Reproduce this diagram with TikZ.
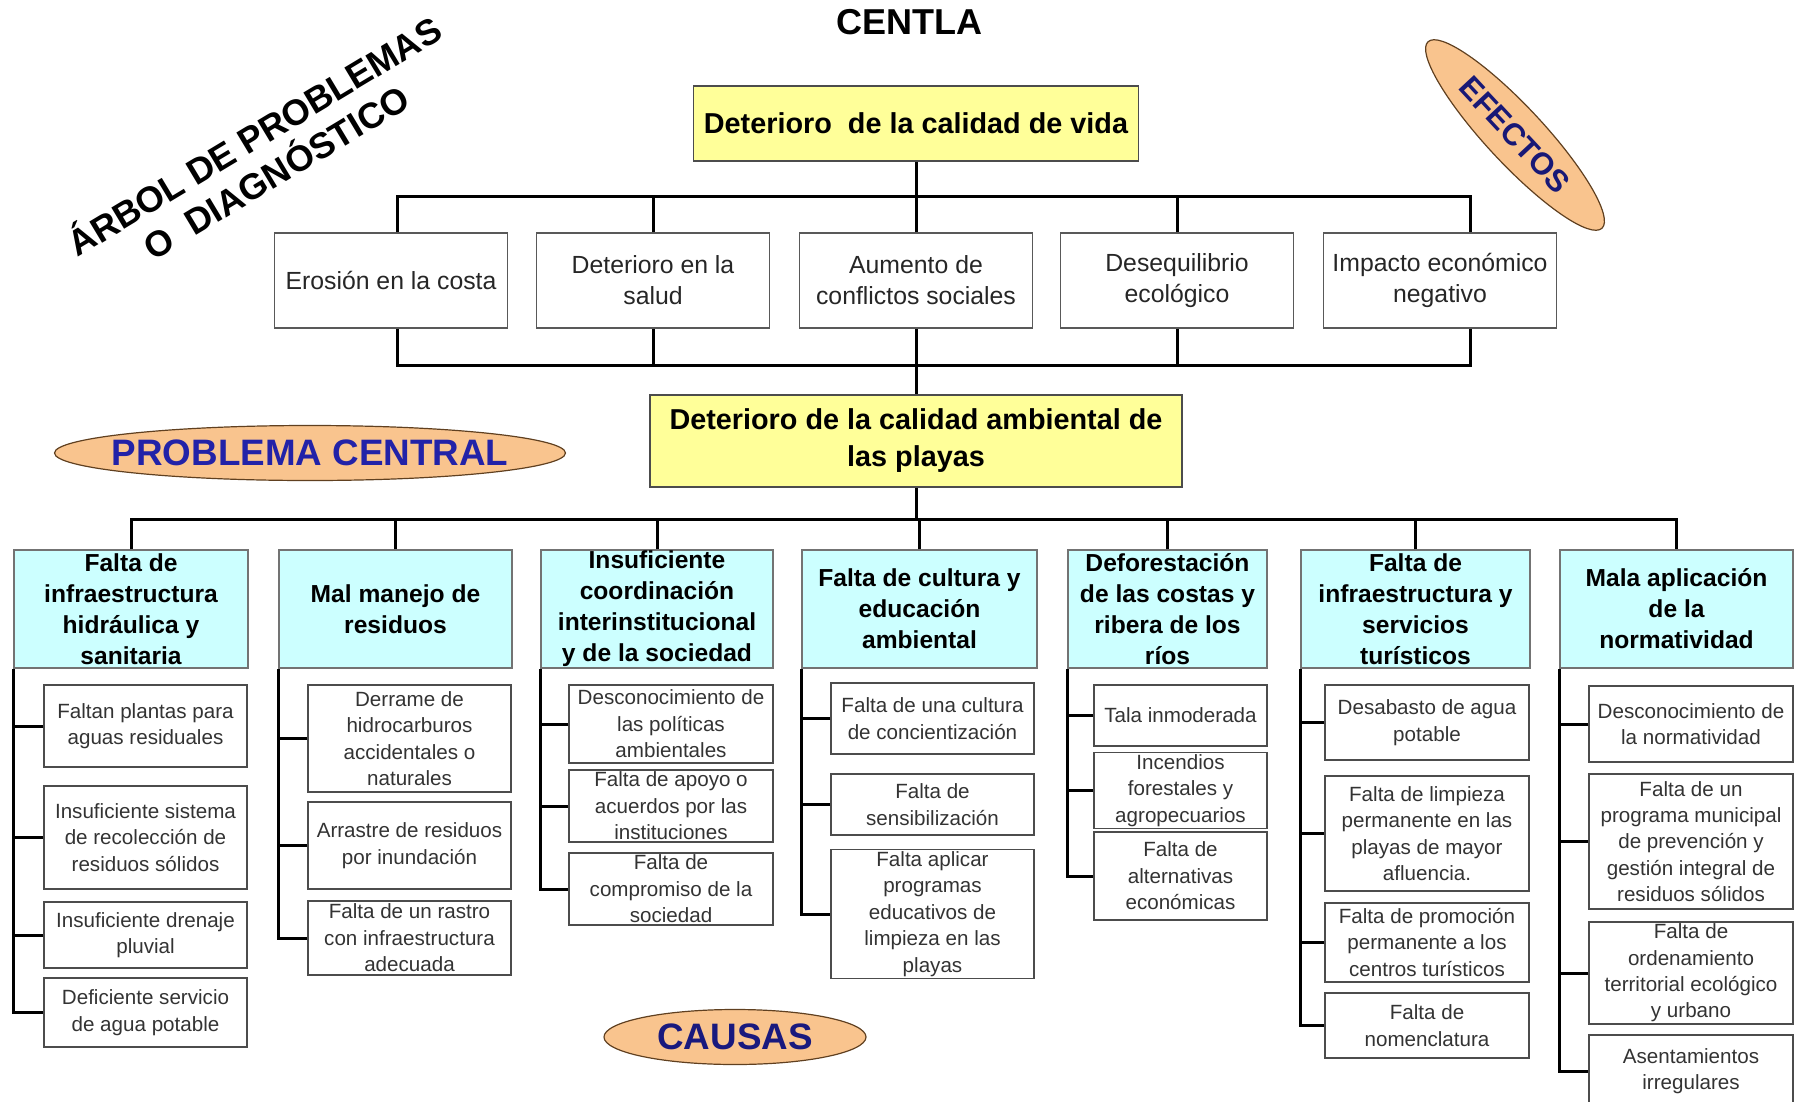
\documentclass[tikz,border=0pt]{standalone}
\usepackage{fontspec}
\setmainfont{Liberation Sans}
\usepackage{tikz}
\usetikzlibrary{positioning,shapes,arrows,calc}

\definecolor{amarillo}{HTML}{FFFF99}
\definecolor{celeste}{HTML}{CCFFFF}
\definecolor{naranja}{HTML}{F9C48E}
\definecolor{azul}{HTML}{2222A8}

\begin{document}
\begin{tikzpicture}[x=1pt, y=-1pt,
  efecto/.style={draw=black!65, line width=1.5pt, minimum width=233pt, minimum height=95pt,
                 inner sep=2pt, align=center, text=black!85, font=\fontsize{24.8}{31}\selectfont},
  central/.style={draw=black!70, line width=1.5pt, fill=amarillo, inner sep=2pt, align=center,
                  font=\bfseries\fontsize{28.8}{37}\selectfont},
  causa/.style={draw=black!55, line width=1.5pt, fill=celeste, minimum height=118pt, inner sep=0pt,
                align=center, font=\bfseries\fontsize{24.6}{31}\selectfont},
  sub/.style={draw=black!70, line width=1.5pt, inner sep=2pt, align=center, text=black!80,
              font=\fontsize{20.6}{26.4}\selectfont},
  ovalo/.style={ellipse, draw=black!50!brown, line width=1.2pt, fill=naranja, inner sep=0pt},
  ovtexto/.style={text=azul, font=\bfseries\fontsize{36.8}{40}\selectfont},
  tronco/.style={line width=3pt}
]
  \useasboundingbox (0,0) rectangle (1800,1101);

  % titulos y ovalos
  \node[font=\bfseries\fontsize{36}{40}\selectfont] (centla) at (909,22) {CENTLA};
  \node[rotate=31, align=center, font=\bfseries\fontsize{36}{42}\selectfont] (titulo) at (264,152)
       {ÁRBOL DE PROBLEMAS\\O~ DIAGNÓSTICO};
  \node[ovalo, minimum width=255pt, minimum height=57pt, rotate=-47] (efov) at (1515,135) {};
  \node[ovtexto, text=azul!70!black, rotate=-47, font=\bfseries\fontsize{31}{34}\selectfont] (eftx) at (efov) {EFECTOS};
  \node[ovalo, minimum width=511pt, minimum height=55pt] (pcov) at (310,453) {};
  \node[ovtexto] (pctx) at (pcov) {PROBLEMA CENTRAL};
  \node[ovalo, minimum width=262pt, minimum height=55pt] (caov) at (735,1037) {};
  \node[ovtexto, text=azul!75!black] (catx) at (caov) {CAUSAS};

  % efectos
  \node[central, minimum width=445pt, minimum height=75pt] (vida) at (916,123.5) {Deterioro~ de la calidad de vida};
  \node[efecto] (e1) at (391,280.5)  {Erosión en la costa};
  \node[efecto] (e2) at (653,280.5)  {Deterioro en la\\salud};
  \node[efecto] (e3) at (916,280.5)  {Aumento de\\conflictos sociales};
  \node[efecto] (e4) at (1177,280.5) {Desequilibrio\\ecológico};
  \node[efecto] (e5) at (1440,280.5) {Impacto económico\\negativo};
  \node[central, minimum width=532pt, minimum height=92pt] (playas) at (916,441)
       {Deterioro de la calidad ambiental de\\las playas};

  \coordinate (busA) at (0,196);
  \coordinate (busB) at (0,365);
  \coordinate (busC) at (0,519);
  \coordinate (e1n) at ([xshift=6pt]e1.north);
  \coordinate (e1s) at ([xshift=6pt]e1.south);
  \coordinate (e5n) at ([xshift=30pt]e5.north);
  \coordinate (e5s) at ([xshift=30pt]e5.south);

  \draw[tronco] (vida.south) -- (vida.south |- busA);
  \draw[tronco] (e1n) -- (e1n |- busA) -- (e5n |- busA) -- (e5n);
  \draw[tronco] (e2.north) -- (e2.north |- busA);
  \draw[tronco] (e3.north) -- (e3.north |- busA);
  \draw[tronco] (e4.north) -- (e4.north |- busA);
  \draw[tronco] (e1s) -- (e1s |- busB) -- (e5s |- busB) -- (e5s);
  \draw[tronco] (e2.south) -- (e2.south |- busB);
  \draw[tronco] (e3.south) -- (playas.north);
  \draw[tronco] (e4.south) -- (e4.south |- busB);

  % causas
  \node[causa, minimum width=234pt] (c1) at (131,609)    {Falta de\\infraestructura\\hidráulica y\\sanitaria};
  \node[causa, minimum width=233pt] (c2) at (395.5,609)  {Mal manejo de\\residuos};
  \node[causa, minimum width=232pt] (c3) at (657,609)    {Insuficiente\\coordinación\\interinstitucional\\y de la sociedad};
  \node[causa, minimum width=235pt] (c4) at (919.5,609)  {Falta de cultura y\\educación\\ambiental};
  \node[causa, minimum width=199pt] (c5) at (1167.5,609) {Deforestación\\de las costas y\\ribera de los\\ríos};
  \node[causa, minimum width=229pt] (c6) at (1415.5,609) {Falta de\\infraestructura y\\servicios\\turísticos};
  \node[causa, minimum width=233pt] (c7) at (1676.5,609) {Mala aplicación\\de la\\normatividad};

  \draw[tronco] (playas.south) -- (playas.south |- busC);
  \draw[tronco] (c1.north) -- (c1.north |- busC) -- (c7.north |- busC) -- (c7.north);
  \draw[tronco] (c2.north) -- (c2.north |- busC);
  \draw[tronco] (c3.north) -- (c3.north |- busC);
  \draw[tronco] (c4.north) -- (c4.north |- busC);
  \draw[tronco] (c5.north) -- (c5.north |- busC);
  \draw[tronco] (c6.north) -- (c6.north |- busC);

  % sub-causas
  \node[sub, minimum width=203pt, minimum height=82pt]  (s11) at (145.5,726)   {Faltan plantas para\\aguas residuales};
  \node[sub, minimum width=203pt, minimum height=103pt] (s12) at (145.5,837.5) {Insuficiente sistema\\de recolección de\\residuos sólidos};
  \node[sub, minimum width=203pt, minimum height=66pt]  (s13) at (145.5,935)   {Insuficiente drenaje\\pluvial};
  \node[sub, minimum width=203pt, minimum height=69pt]  (s14) at (145.5,1012.5) {Deficiente servicio\\de agua potable};

  \node[sub, minimum width=203pt, minimum height=107pt] (s21) at (409.5,738.5) {Derrame de\\hidrocarburos\\accidentales o\\naturales};
  \node[sub, minimum width=203pt, minimum height=87pt]  (s22) at (409.5,845.5) {Arrastre de residuos\\por inundación};
  \node[sub, minimum width=203pt, minimum height=74pt]  (s23) at (409.5,938)   {Falta de un rastro\\con infraestructura\\adecuada};

  \node[sub, minimum width=204pt, minimum height=78pt]  (s31) at (671,724) {Desconocimiento de\\las políticas\\ambientales};
  \node[sub, minimum width=204pt, minimum height=66pt]  (s32) at (671,806) {Falta de apoyo o\\acuerdos por las\\instituciones};
  \node[sub, minimum width=204pt, minimum height=72pt]  (s33) at (671,889) {Falta de\\compromiso de la\\sociedad};

  \node[sub, minimum width=203pt, minimum height=71pt]  (s41) at (932.5,718.5) {Falta de una cultura\\de concientización};
  \node[sub, minimum width=203pt, minimum height=61pt]  (s42) at (932.5,804.5) {Falta de\\sensibilización};
  \node[sub, minimum width=203pt, minimum height=122pt] (s43) at (932.5,914)   {Falta aplicar\\programas\\educativos de\\limpieza en las\\playas};

  \node[sub, minimum width=173pt, minimum height=61pt]  (s51) at (1180.5,715.5) {Tala inmoderada};
  \node[sub, minimum width=173pt, minimum height=63pt]  (s52) at (1180.5,790.5) {Incendios\\forestales y\\agropecuarios};
  \node[sub, minimum width=173pt, minimum height=88pt]  (s53) at (1180.5,876)   {Falta de\\alternativas\\económicas};

  \node[sub, minimum width=204pt, minimum height=75pt]  (s61) at (1427,722.5)  {Desabasto de agua\\potable};
  \node[sub, minimum width=204pt, minimum height=115pt] (s62) at (1427,833.5)  {Falta de limpieza\\permanente en las\\playas de mayor\\afluencia.};
  \node[sub, minimum width=204pt, minimum height=79pt]  (s63) at (1427,942.5)  {Falta de promoción\\permanente a los\\centros turísticos};
  \node[sub, minimum width=204pt, minimum height=65pt]  (s64) at (1427,1025.5) {Falta de\\nomenclatura};

  \node[sub, minimum width=204pt, minimum height=76pt]  (s71) at (1691,724)   {Desconocimiento de\\la normatividad};
  \node[sub, minimum width=204pt, minimum height=135pt] (s72) at (1691,841.5) {Falta de un\\programa municipal\\de prevención y\\gestión integral de\\residuos sólidos};
  \node[sub, minimum width=204pt, minimum height=102pt] (s73) at (1691,973)   {Falta de\\ordenamiento\\territorial ecológico\\y urbano};
  \node[sub, minimum width=204pt, minimum height=72pt]  (s74) at (1691,1071)  {Asentamientos\\irregulares};

  % ramas
  \draw[tronco] (c1.south west) |- (s14.west);
  \draw[tronco] (s11.west) -- (s11.west -| c1.south west);
  \draw[tronco] (s12.west) -- (s12.west -| c1.south west);
  \draw[tronco] (s13.west) -- (s13.west -| c1.south west);
  \draw[tronco] (c2.south west) |- (s23.west);
  \draw[tronco] (s21.west) -- (s21.west -| c2.south west);
  \draw[tronco] (s22.west) -- (s22.west -| c2.south west);
  \draw[tronco] (c3.south west) |- (s33.west);
  \draw[tronco] (s31.west) -- (s31.west -| c3.south west);
  \draw[tronco] (s32.west) -- (s32.west -| c3.south west);
  \draw[tronco] (c4.south west) |- (s43.west);
  \draw[tronco] (s41.west) -- (s41.west -| c4.south west);
  \draw[tronco] (s42.west) -- (s42.west -| c4.south west);
  \draw[tronco] (c5.south west) |- (s53.west);
  \draw[tronco] (s51.west) -- (s51.west -| c5.south west);
  \draw[tronco] (s52.west) -- (s52.west -| c5.south west);
  \draw[tronco] (c6.south west) |- (s64.west);
  \draw[tronco] (s61.west) -- (s61.west -| c6.south west);
  \draw[tronco] (s62.west) -- (s62.west -| c6.south west);
  \draw[tronco] (s63.west) -- (s63.west -| c6.south west);
  \draw[tronco] (c7.south west) |- (s74.west);
  \draw[tronco] (s71.west) -- (s71.west -| c7.south west);
  \draw[tronco] (s72.west) -- (s72.west -| c7.south west);
  \draw[tronco] (s73.west) -- (s73.west -| c7.south west);
\end{tikzpicture}
\end{document}
